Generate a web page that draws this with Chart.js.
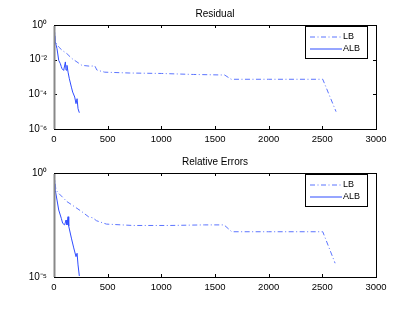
<!DOCTYPE html>
<html>
<head>
<meta charset="utf-8">
<script src="https://cdn.jsdelivr.net/npm/chart.js@4/dist/chart.umd.min.js"></script>
<style>
  html, body { margin: 0; padding: 0; background: #fff; }
  #wrap { position: relative; width: 415px; height: 312px; overflow: hidden; }
  canvas { position: absolute; left: 0; }
  #topChart { top: 0; }
  #bottomChart { top: 148px; }
</style>
</head>
<body>
<div id="wrap">
  <canvas id="topChart" width="415" height="150"></canvas>
  <canvas id="bottomChart" width="415" height="150"></canvas>
</div>
<script>
// Series names
const seriesNames = ['LB', 'ALB'];

// Residual plot
const residualLBx = [0, 15, 44, 75, 121, 168, 260, 336, 380, 400, 472, 700, 1000, 1300, 1590, 1650, 2000, 2504, 2628];
const residualLBy = [1, 0.1, 0.054, 0.035, 0.022, 0.0115, 0.0047, 0.0042, 0.0044, 0.0025, 0.0019, 0.0017, 0.0016, 0.0014, 0.0013, 0.00074, 0.00074, 0.00074, 0.00001];
const residualALBx = [0, 12, 28, 44, 59, 67, 75, 90, 106, 112, 121, 131, 143, 162, 174, 193, 205, 215, 224, 236];
const residualALBy = [1, 0.105, 0.043, 0.0091, 0.0059, 0.0041, 0.003, 0.0024, 0.0074, 0.0025, 0.0047, 0.0019, 0.00079, 0.00026, 0.000135, 0.00007, 0.000029, 0.000056, 0.0000148, 0.0000087];
const residualTicks = [1, 1e-2, 1e-4, 1e-6];
const residualTickLabels = ['10⁰', '10⁻²', '10⁻⁴', '10⁻⁶'];

// Relative errors plot
const relErrLBx = [0, 18, 44, 121, 168, 260, 321, 364, 395, 488, 735, 1074, 1400, 1584, 1656, 2000, 2504, 2619];
const relErrLBy = [1, 0.15, 0.105, 0.042, 0.029, 0.0138, 0.0079, 0.0069, 0.0051, 0.0035, 0.003, 0.003, 0.0032, 0.0032, 0.0015, 0.0015, 0.0015, 0.000046];
const relErrALBx = [0, 12, 28, 44, 68, 81, 99, 112, 121, 131, 137, 162, 184, 205, 215, 224, 236];
const relErrALBy = [1, 0.15, 0.05, 0.0166, 0.0066, 0.0038, 0.0032, 0.0055, 0.0032, 0.0079, 0.0028, 0.00074, 0.00025, 0.000095, 0.000138, 0.000038, 0.0000112];
const relErrTicks = [1, 1e-5];
const relErrTickLabels = ['10⁰', '10⁻⁵'];

// x axis
const xMin = 0, xMax = 3000, xStep = 500;

const FONT = 'Liberation Sans, Arial, Helvetica, sans-serif';
Chart.defaults.font.family = FONT;
Chart.defaults.color = '#000';

const zip = (xs, ys) => xs.map((x, i) => ({ x: x, y: ys[i] }));

// box, inward ticks and the boxed legend (MATLAB look)
const framePlugin = {
    id: 'frame',
    afterDatasetsDraw(chart) {
        const ctx = chart.ctx;
        const a = chart.chartArea;
        const xs = chart.scales.x, ys = chart.scales.y;
        const tl = 3;
        ctx.save();
        ctx.strokeStyle = '#000';
        ctx.lineWidth = 1;
        ctx.beginPath();
        xs.ticks.forEach(t => {
            const px = Math.round(xs.getPixelForValue(t.value)) + 0.5;
            ctx.moveTo(px, a.bottom); ctx.lineTo(px, a.bottom - tl);
            ctx.moveTo(px, a.top); ctx.lineTo(px, a.top + tl);
        });
        ys.ticks.forEach(t => {
            const py = Math.round(ys.getPixelForValue(t.value)) + 0.5;
            ctx.moveTo(a.left, py); ctx.lineTo(a.left + tl, py);
            ctx.moveTo(a.right, py); ctx.lineTo(a.right - tl, py);
        });
        ctx.stroke();
        ctx.strokeRect(a.left + 0.5, a.top + 0.5, a.right - a.left, a.bottom - a.top);
        // left edge looks heavier in the original
        ctx.strokeStyle = '#888';
        ctx.lineWidth = 2;
        ctx.beginPath();
        ctx.moveTo(a.left + 0.5, a.top + 1); ctx.lineTo(a.left + 0.5, a.bottom);
        ctx.stroke();

        // legend
        const w = 62, h = 32;
        const x0 = a.right - 9 - w, y0 = a.top + 1;
        ctx.fillStyle = '#fff';
        ctx.fillRect(x0, y0, w, h);
        ctx.strokeStyle = '#000';
        ctx.lineWidth = 1;
        ctx.strokeRect(x0 + 0.5, y0 + 0.5, w, h);
        ctx.font = '9px ' + FONT;
        ctx.textBaseline = 'middle';
        chart.data.datasets.forEach((ds, i) => {
            const y = Math.round(y0 + 11 + i * 11.5);
            ctx.strokeStyle = ds.borderColor;
            ctx.setLineDash(ds.borderDash || []);
            ctx.beginPath();
            ctx.moveTo(x0 + 5, y); ctx.lineTo(x0 + 37, y);
            ctx.stroke();
            ctx.setLineDash([]);
            ctx.fillStyle = '#000';
            ctx.fillText(ds.label, x0 + 38, y);
        });
        ctx.restore();
    }
};

function makeChart(canvasId, title, lbx, lby, albx, alby, yMin, ticks, tickLabels) {
    return new Chart(document.getElementById(canvasId), {
        type: 'line',
        data: {
            datasets: [{
                label: seriesNames[0],
                data: zip(lbx, lby),
                borderColor: '#5b74ff',
                borderWidth: 1,
                borderDash: [5, 2.5, 1, 2.5],
                pointRadius: 0,
                tension: 0
            }, {
                label: seriesNames[1],
                data: zip(albx, alby),
                borderColor: '#2f4cff',
                borderWidth: 1,
                pointRadius: 0,
                tension: 0
            }]
        },
        options: {
            responsive: false,
            animation: false,
            devicePixelRatio: 1,
            layout: { padding: { left: 15, right: 0, top: 0, bottom: 0 } },
            scales: {
                x: {
                    type: 'linear',
                    min: xMin, max: xMax,
                    grid: { display: false, drawTicks: false },
                    border: { display: false },
                    ticks: {
                        stepSize: xStep, padding: 5, maxRotation: 0, autoSkip: false,
                        font: { size: 9.5 }, color: '#000',
                        callback: v => String(v)
                    },
                    afterFit: s => { s.height = 21; }
                },
                y: {
                    type: 'logarithmic',
                    min: yMin, max: 1,
                    grid: { display: false, drawTicks: false },
                    border: { display: false },
                    afterBuildTicks: s => { s.ticks = ticks.map(v => ({ value: v })); },
                    ticks: {
                        padding: 7,
                        font: { size: 10 },
                        color: '#000',
                        callback: v => tickLabels[ticks.indexOf(v)]
                    },
                    afterFit: s => { s.width = 39; }
                },
                yR: {
                    type: 'linear',
                    position: 'right',
                    display: true,
                    grid: { display: false, drawTicks: false },
                    border: { display: false },
                    ticks: { display: false },
                    afterFit: s => { s.width = 39; }
                }
            },
            plugins: {
                legend: { display: false },
                tooltip: { enabled: false },
                title: {
                    display: true,
                    text: title,
                    color: '#000',
                    font: { size: 10, weight: 'normal', lineHeight: 1.3 },
                    padding: { top: 8, bottom: 4 }
                }
            }
        },
        plugins: [framePlugin]
    });
}

makeChart('topChart', 'Residual', residualLBx, residualLBy, residualALBx, residualALBy, 1e-6, residualTicks, residualTickLabels);
makeChart('bottomChart', 'Relative Errors', relErrLBx, relErrLBy, relErrALBx, relErrALBy, 1e-5, relErrTicks, relErrTickLabels);
</script>
</body>
</html>
